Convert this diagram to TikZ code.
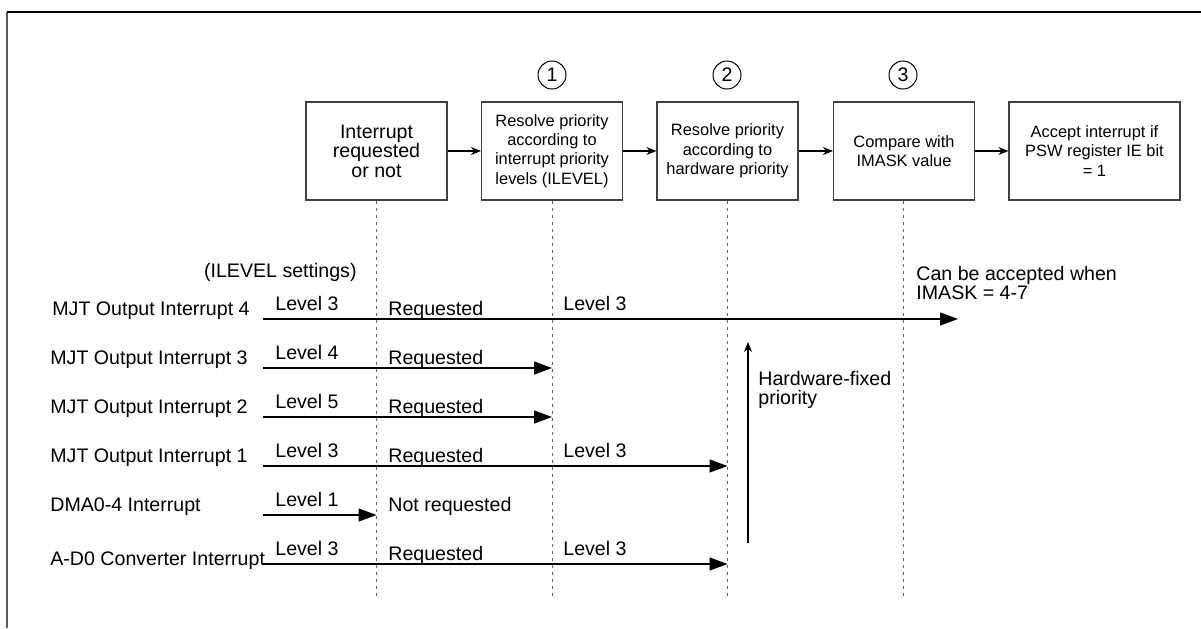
\documentclass[tikz,border=0pt]{standalone}
\usepackage{fontspec}
\setmainfont{Liberation Sans}
\usetikzlibrary{arrows.meta}

\begin{document}
\begin{tikzpicture}[x=0.5pt, y=-0.5pt,
    every node/.style={inner sep=0pt, font=\fontsize{9.8}{9.8}\selectfont},
    stagebox/.style={draw=black!75, line width=0.6pt, minimum width=70.5pt,
                     minimum height=49pt, align=center},
    small/.style={font=\fontsize{8.2}{9.7}\selectfont},
    flow/.style={-{Stealth[length=5pt,width=4pt]}, line width=0.6pt},
    req/.style={-{Triangle[length=9pt,width=6.5pt]}, line width=0.7pt},
    guide/.style={draw=black!60, line width=0.4pt, dash pattern=on 1.5pt off 2pt},
    num/.style={circle, draw, line width=0.5pt, minimum size=14pt}]

  \useasboundingbox (0,0) rectangle (1201,628);

  % frame
  \draw[line width=1pt, black!65] (7,628) -- (7,12);
  \draw[line width=0.8pt] (7,12) -- (1201,12);

  % stages
  \node[stagebox] (b0) at (376.5,151) {Interrupt\\requested\\or not};
  \node[stagebox, small] (b1) at (552,151)
      {Resolve priority\\according to\\interrupt priority\\levels (ILEVEL)};
  \node[stagebox, small] (b2) at (727.5,151)
      {Resolve priority\\according to\\hardware priority};
  \node[stagebox, small] (b3) at (904,151) {Compare with\\IMASK value};
  \node[stagebox, small, minimum width=85.5pt] (b4) at (1094.5,151)
      {Accept interrupt if\\PSW register IE bit\\= 1};

  \node[num] (n1) at (552,75) {1};
  \node[num] (n2) at (727,75) {2};
  \node[num] (n3) at (903,75) {3};

  \draw[flow] (b0) -- (b1);
  \draw[flow] (b1) -- (b2);
  \draw[flow] (b2) -- (b3);
  \draw[flow] (b3) -- (b4);

  % dotted guides
  \coordinate (bot) at (0,597);
  \draw[guide] (b0.south) -- (b0.south |- bot);
  \draw[guide] (b1.south) -- (b1.south |- bot);
  \draw[guide] ([xshift=-0.25pt]b2.south) -- ([xshift=-0.25pt]b2.south |- bot);
  \draw[guide] ([xshift=-0.5pt]b3.south) -- ([xshift=-0.5pt]b3.south |- bot);

  % request rows
  \node[anchor=east] (set) at (357,272) {(ILEVEL settings)};

  \coordinate (r1) at (263,319);
  \coordinate (r2) at (263,368);
  \coordinate (r3) at (263,417);
  \coordinate (r4) at (263,466);
  \coordinate (r5) at (263,515);
  \coordinate (r6) at (263,564);
  \coordinate (acc) at (958,319);

  \node[anchor=west] (l1) at (52,311) {MJT Output Interrupt 4};
  \node[anchor=west] (l2) at (50,360) {MJT Output Interrupt 3};
  \node[anchor=west] (l3) at (50,409) {MJT Output Interrupt 2};
  \node[anchor=west] (l4) at (50,458) {MJT Output Interrupt 1};
  \node[anchor=west] (l5) at (50,507) {DMA0-4 Interrupt};
  \node[anchor=west] (l6) at (50,561) {A-D0 Converter Interrupt};

  \draw[req] (r1) -- (acc);
  \draw[req] (r2) -- (r2 -| b1.south);
  \draw[req] (r3) -- (r3 -| b1.south);
  \draw[req] (r4) -- (r4 -| b2.south);
  \draw[req] (r5) -- (r5 -| b0.south);
  \draw[req] (r6) -- (r6 -| b2.south);

  \node[anchor=west] (v1) at (275,303) {Level 3};
  \node[anchor=west] (v2) at (275,352) {Level 4};
  \node[anchor=west] (v3) at (275,401) {Level 5};
  \node[anchor=west] (v4) at (275,450) {Level 3};
  \node[anchor=west] (v5) at (275,499) {Level 1};
  \node[anchor=west] (v6) at (275,548) {Level 3};

  \node[anchor=west] (q1) at (388,310) {Requested};
  \node[anchor=west] (q2) at (388,359) {Requested};
  \node[anchor=west] (q3) at (388,408) {Requested};
  \node[anchor=west] (q4) at (388,457) {Requested};
  \node[anchor=west] (q5) at (388,506) {Not requested};
  \node[anchor=west] (q6) at (388,555) {Requested};

  \node[anchor=west] (w1) at (563,303) {Level 3};
  \node[anchor=west] (w4) at (563,450) {Level 3};
  \node[anchor=west] (w6) at (563,548) {Level 3};

  \node[anchor=west, align=left] (can) at (916,283)
      {Can be accepted when\\IMASK = 4-7};

  % hardware-fixed priority
  \coordinate (hw0) at (748,543);
  \coordinate (hw1) at (748,342);
  \draw[flow] (hw0) -- (hw1);
  \node[anchor=west, align=left] (hw) at (758,390) {Hardware-fixed\\priority};
\end{tikzpicture}
\end{document}
